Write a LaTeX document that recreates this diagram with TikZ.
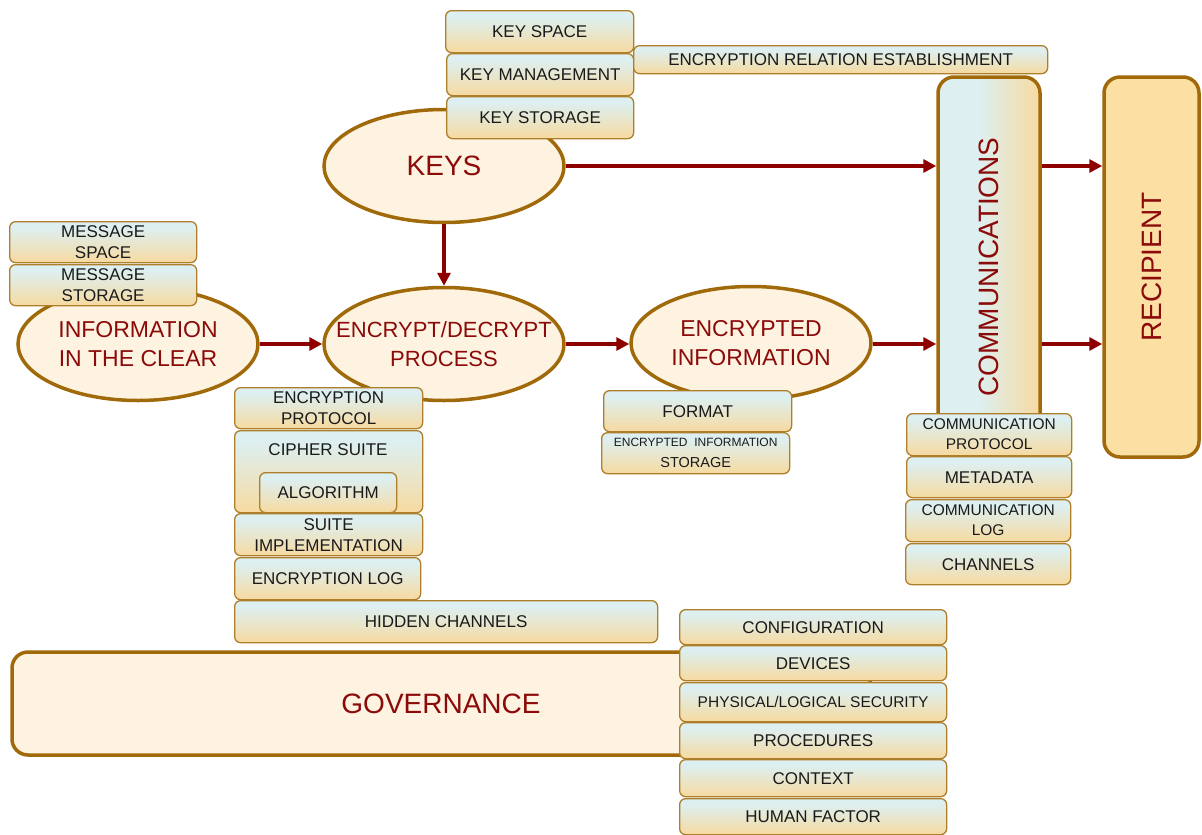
\documentclass[tikz,border=0pt]{standalone}
\usepackage{fontspec}
\setmainfont{Liberation Sans}
\usetikzlibrary{shapes.geometric,arrows.meta}
\definecolor{boxblue}{HTML}{DDEFF0}
\definecolor{boxorange}{HTML}{F7DAA0}
\definecolor{boxborder}{HTML}{AD7F2B}
\definecolor{ellborder}{HTML}{A06A0A}
\definecolor{ellfill}{HTML}{FEF3E0}
\definecolor{recipfill}{HTML}{FBDFA3}
\definecolor{arrred}{HTML}{8E0000}
\definecolor{labred}{HTML}{8B0A0A}
\definecolor{textdark}{HTML}{1A1A1A}
\pgfdeclareverticalshading{boxshade}{100bp}{color(0bp)=(boxorange); color(25bp)=(boxorange); color(50bp)=(boxorange!40!boxblue); color(68bp)=(boxblue); color(100bp)=(boxblue)}
\pgfdeclarehorizontalshading{commshade}{100bp}{color(0bp)=(boxblue); color(30bp)=(boxblue); color(45bp)=(boxblue); color(60bp)=(boxblue!50!boxorange); color(75bp)=(boxorange); color(100bp)=(boxorange)}
\tikzset{
  sbox/.style={draw=boxborder, line width=1.3pt, rounded corners=6pt, shading=boxshade,
    inner sep=0pt, align=center, anchor=north west, text=textdark,
    font=\fontsize{17}{21}\selectfont},
  plainlbl/.style={inner sep=0pt, align=center, text=textdark, font=\fontsize{17}{21}\selectfont},
  ell/.style={ellipse, draw=ellborder, line width=3.5pt, fill=ellfill,
    minimum width=240pt, minimum height=113pt, inner sep=0pt},
  elllbl/.style={inner sep=0pt, align=center, text=labred, font=\fontsize{23}{29}\selectfont},
  bigbox/.style={draw=ellborder, line width=3.5pt, rounded corners=16pt, inner sep=0pt},
  biglbl/.style={inner sep=0pt, text=labred, font=\fontsize{28}{32}\selectfont},
  arr/.style={draw=arrred, line width=3.5pt, -{Triangle[length=13pt,width=13pt]}},
}
\begin{document}
\begin{tikzpicture}[x=1pt,y=-1pt]
\useasboundingbox (0,0) rectangle (1202,835);
% big containers
\node[bigbox, fill=ellfill, minimum width=858pt, minimum height=103pt] (gov) at (441,703.5) {};
\node[biglbl] (govlbl) at (gov.center) {GOVERNANCE};
\node[bigbox, shading=commshade, minimum width=102pt, minimum height=352pt] (comm) at (989,253) {};
\node[biglbl, rotate=90] (commlbl) at (989,267) {COMMUNICATIONS};
\node[bigbox, fill=recipfill, minimum width=95pt, minimum height=380pt] (recip) at (1151.5,267) {};
\node[biglbl, rotate=90] (reciplbl) at (recip.center) {RECIPIENT};
% ellipses
\node[ell] (keys) at (444,166) {};
\node[biglbl] (keyslbl) at (keys.center) {KEYS};
\node[ell] (info) at (138,344) {};
\node[elllbl] (infolbl) at (info.center) {INFORMATION\\IN THE CLEAR};
\node[ell] (encp) at (444,344) {};
\node[elllbl, font=\fontsize{22}{29}\selectfont] (encplbl) at (encp.center) {ENCRYPT/DECRYPT\\PROCESS};
\node[ell] (enci) at (751,343) {};
\node[elllbl] (encilbl) at (enci.center) {ENCRYPTED\\INFORMATION};
% arrows
\draw[arr] (keys.east) -- (keys.east -| comm.west);
\draw[arr] (comm.east |- keys.east) -- (recip.west |- keys.east);
\draw[arr] (keys.south) -- (encp.north);
\draw[arr] (info.east) -- (encp.west);
\draw[arr] (encp.east) -- (encp.east -| enci.west);
\draw[arr] (enci.east |- encp.east) -- (encp.east -| comm.west);
\draw[arr] (comm.east |- encp.east) -- (recip.west |- encp.east);
% key boxes
\node[sbox, minimum width=188pt, minimum height=42pt] (kspace) at (445,10) {KEY SPACE};
\node[sbox, minimum width=187pt, minimum height=42pt] (kmgmt) at (446,53) {KEY MANAGEMENT};
\node[sbox, minimum width=187pt, minimum height=42pt] (kstor) at (446,96) {KEY STORAGE};
\node[sbox, minimum width=414pt, minimum height=28pt] (ere) at (633,45) {ENCRYPTION RELATION ESTABLISHMENT};
% message boxes
\node[sbox, minimum width=187pt, minimum height=41pt] (mspace) at (9,221) {MESSAGE\\SPACE};
\node[sbox, minimum width=187pt, minimum height=41pt] (mstor) at (9,264) {MESSAGE\\STORAGE};
% encryption process boxes
\node[sbox, minimum width=188pt, minimum height=41pt] (eprot) at (234,387) {ENCRYPTION\\PROTOCOL};
\node[sbox, minimum width=188pt, minimum height=82pt] (cipher) at (234,430) {};
\node[plainlbl] (cipherlbl) at (328,450) {CIPHER SUITE};
\node[sbox, minimum width=137pt, minimum height=40pt] (algo) at (259,472) {ALGORITHM};
\node[sbox, minimum width=188pt, minimum height=42pt] (simpl) at (234,513) {SUITE\\IMPLEMENTATION};
\node[sbox, minimum width=186pt, minimum height=42pt] (elog) at (234,557) {ENCRYPTION LOG};
\node[sbox, minimum width=423pt, minimum height=42pt] (hidden) at (234,600) {HIDDEN CHANNELS};
% encrypted information boxes
\node[sbox, minimum width=188pt, minimum height=41pt] (format) at (603,390) {FORMAT};
\node[sbox, minimum width=188pt, minimum height=41pt] (eistor) at (601,432)
  {{\fontsize{12}{17}\selectfont ENCRYPTED\ \ INFORMATION}\\{\fontsize{14.5}{17}\selectfont STORAGE}};
% communication boxes
\node[sbox, minimum width=165pt, minimum height=42pt, font=\fontsize{15.5}{20}\selectfont] (cprot) at (906,413) {COMMUNICATION\\PROTOCOL};
\node[sbox, minimum width=165pt, minimum height=41pt] (meta) at (906,456) {METADATA};
\node[sbox, minimum width=165pt, minimum height=42pt, font=\fontsize{15.5}{20}\selectfont] (clog) at (905,499) {COMMUNICATION\\LOG};
\node[sbox, minimum width=165pt, minimum height=41pt] (chan) at (905,543) {CHANNELS};
% governance boxes
\node[sbox, minimum width=267pt, minimum height=35pt] (config) at (679,609) {CONFIGURATION};
\node[sbox, minimum width=267pt, minimum height=35pt] (dev) at (679,645) {DEVICES};
\node[sbox, minimum width=267pt, minimum height=39pt, font=\fontsize{15.5}{20}\selectfont] (phys) at (679,682) {PHYSICAL/LOGICAL SECURITY};
\node[sbox, minimum width=267pt, minimum height=36pt] (proc) at (679,722) {PROCEDURES};
\node[sbox, minimum width=267pt, minimum height=37pt] (ctx) at (679,759) {CONTEXT};
\node[sbox, minimum width=267pt, minimum height=36pt] (human) at (679,798) {HUMAN FACTOR};
\end{tikzpicture}
\end{document}
